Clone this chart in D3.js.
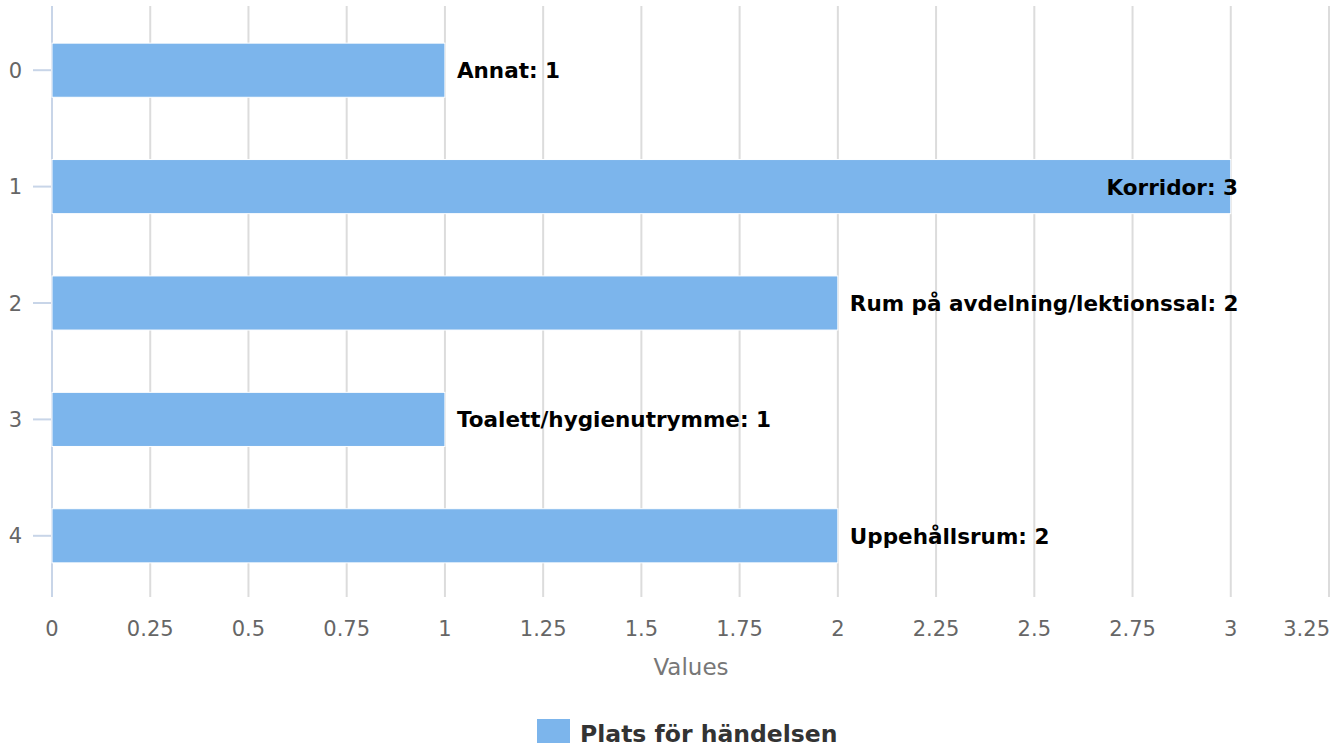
<!DOCTYPE html>
<html><head><meta charset="utf-8">
<script src="https://cdn.jsdelivr.net/npm/d3@7"></script>
<style>body{margin:0;background:#fff;font-family:"DejaVu Sans",sans-serif}</style>
</head><body>
<svg id="c" width="1344" height="749"></svg>
<script>
const categories = ["0","1","2","3","4"];
const names = ["Annat","Korridor","Rum på avdelning/lektionssal","Toalett/hygienutrymme","Uppehållsrum"];
const values = [1,3,2,1,2];
const xTicks = [0,0.25,0.5,0.75,1,1.25,1.5,1.75,2,2.25,2.5,2.75,3,3.25];
const seriesName = "Plats för händelsen";
const axisTitle = "Values";

(function(){
const svg = d3.select("#c");
const mL = 52, mR = 1329, mT = 12, mB = 594;
const x = d3.scaleLinear().domain([0,3.25]).range([mL,mR]);
const y = d3.scaleBand().domain(categories).range([mT,mB]).paddingInner(0.535).paddingOuter(0.2675);

svg.append("g").selectAll("line").data(xTicks.slice(1)).join("line")
  .attr("x1",d=>x(d)).attr("x2",d=>x(d)).attr("y1",6).attr("y2",597)
  .attr("stroke","#dcdcdc").attr("stroke-width",2);
svg.append("line").attr("x1",mL).attr("x2",mL).attr("y1",6).attr("y2",597)
  .attr("stroke","#c8d5e8").attr("stroke-width",2);
const yc = d => y(d)+y.bandwidth()/2;
svg.append("g").selectAll("line").data(categories).join("line")
  .attr("x1",33).attr("x2",51).attr("y1",yc).attr("y2",yc)
  .attr("stroke","#c8d5e8").attr("stroke-width",2);
svg.append("g").selectAll("text").data(categories).join("text")
  .attr("x",22).attr("y",d=>yc(d)+7.5).attr("text-anchor","end")
  .attr("font-size",21).attr("fill","#666").text(d=>d);
svg.append("g").selectAll("text").data(xTicks).join("text")
  .attr("x",(d,i)=> i===xTicks.length-1 ? 1330 : x(d)).attr("y",636)
  .attr("text-anchor",(d,i)=> i===xTicks.length-1 ? "end" : "middle")
  .attr("font-size",21).attr("fill","#666").text(d=>d);
svg.append("text").attr("x",691).attr("y",675).attr("text-anchor","middle")
  .attr("font-size",23).attr("fill","#777").text(axisTitle);
svg.append("g").selectAll("rect").data(values).join("rect")
  .attr("x",x(0)).attr("y",(d,i)=>y(categories[i]))
  .attr("width",d=>x(d)-x(0)).attr("height",y.bandwidth())
  .attr("fill","#7cb5ec").attr("stroke","#fff").attr("stroke-width",1);
svg.append("g").selectAll("text").data(values).join("text")
  .attr("y",(d,i)=>yc(categories[i])+8)
  .attr("x",d=> x(d)+12 > 1100 ? 1238 : x(d)+12)
  .attr("text-anchor",d=> x(d)+12 > 1100 ? "end" : "start")
  .attr("font-size",21.5).attr("font-weight","bold").attr("fill","#000")
  .text((d,i)=>names[i]+": "+d);
svg.append("rect").attr("x",537).attr("y",719).attr("width",33).attr("height",24).attr("fill","#7cb5ec");
svg.append("text").attr("x",580).attr("y",742).attr("font-size",23.5).attr("font-weight","bold")
  .attr("fill","#333").text(seriesName);
})();
</script>
</body></html>
